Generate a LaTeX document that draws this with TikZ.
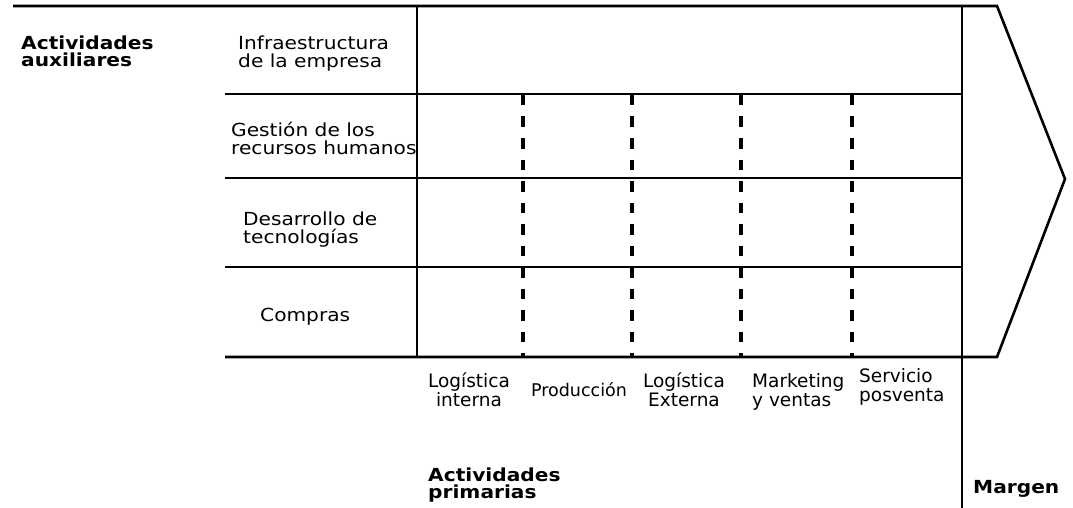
\documentclass[tikz,border=0pt]{standalone}
\usepackage{fontspec}
\setmainfont{DejaVu Sans}[FakeStretch=1.12]
\newfontfamily\plainfont{DejaVu Sans}

\begin{document}
\begin{tikzpicture}[x=1pt, y=-1pt,
    ln/.style={line width=2.6pt},
    dsh/.style={line width=3.4pt, dash pattern=on 10.5pt off 11pt},
    aux/.style={inner sep=0pt, anchor=base west, align=left,
                font=\fontsize{18}{18}\selectfont},
    prim/.style={inner sep=0pt, anchor=base, align=center,
                 font=\plainfont\fontsize{18.5}{19}\selectfont},
    head/.style={inner sep=0pt, anchor=base west, align=left,
                 font=\bfseries\fontsize{18}{17}\selectfont}]
    \useasboundingbox (0,0) rectangle (1073,508);
    % chain outline
    \draw[ln] (13,6) -- (997,6) -- (1065,179) -- (997,357) -- (225,357);
    \draw[ln] (417,6) -- (417,357);
    \draw[ln] (962,6) -- (962,508);
    \foreach \y in {94,178,267} \draw[ln] (225,\y) -- (962,\y);
    \foreach \x in {523,632,741,852} \draw[dsh] (\x,95) -- (\x,357);
    % support activities (anchored on the last line)
    \node[head] (aux)   at (21,66.5)   {Actividades\\auxiliares};
    \node[aux]  (infra) at (238,68)    {Infraestructura\\de la empresa};
    \node[aux]  (rrhh)  at (231,154.5) {Gestión de los\\recursos humanos};
    \node[aux]  (tec)   at (243,243)   {Desarrollo de\\tecnologías};
    \node[aux]  (comp)  at (260,321.7) {Compras};
    % primary activities
    \node[prim] (li)   at (469,406)   {Logística\\interna};
    \node[prim, font=\plainfont\fontsize{17.5}{19}\selectfont] (prod) at (579,396.7) {Producción};
    \node[prim] (le)   at (684,406.5) {Logística\\Externa};
    \node[prim, anchor=base west, align=left] (mkt)  at (752,406.5) {Marketing\\y ventas};
    \node[prim, anchor=base west, align=left] (serv) at (859,401.5) {Servicio\\posventa};
    \node[head] (prima) at (428,498.3) {Actividades\\primarias};
    \node[head] (marg)  at (973,493.3) {Margen};
  \end{tikzpicture}
\end{document}
